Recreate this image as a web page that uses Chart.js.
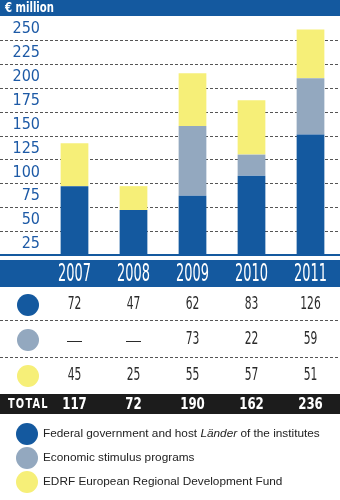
<!DOCTYPE html>
<html lang="en">
<head>
<meta charset="UTF-8">
<title>€ million</title>
<script src="https://cdn.jsdelivr.net/npm/chart.js"></script>
<style>
  html, body { margin: 0; padding: 0; background: #fff; }
  canvas { display: block; }
</style>
</head>
<body>
<canvas id="chart" width="340" height="500"></canvas>
<script>
// data
const years = ['2007', '2008', '2009', '2010', '2011'];
const federal = [72, 47, 62, 83, 126];
const stimulus = [null, null, 73, 22, 59];
const edrf = [45, 25, 55, 57, 51];
const yMax = 250;
const yStep = 25;
const unitLabel = '€ million';
const totalLabel = 'TOTAL';
const legendLabels = [
    'Federal government and host Länder of the institutes',
    'Economic stimulus programs',
    'EDRF European Regional Development Fund'
];

const BLUE = '#14599f';
const GREY = '#93a8bf';
const YELLOW = '#f6ef78';
const NARROW = "'Liberation Sans Narrow', 'DejaVu Sans Condensed', sans-serif";
const SANS = "'Liberation Sans', Arial, sans-serif";

// text with optional horizontal squeeze
function txt(ctx, s, x, y, font, color, align, sx) {
    ctx.save();
    ctx.translate(x, y);
    ctx.scale(sx || 1, 1);
    ctx.font = font;
    ctx.fillStyle = color;
    ctx.textAlign = align || 'center';
    ctx.textBaseline = 'middle';
    ctx.fillText(s, 0, 0);
    ctx.restore();
}

function dashed(ctx, y, w) {
    ctx.save();
    ctx.strokeStyle = '#555';
    ctx.lineWidth = 1;
    ctx.setLineDash([3, 2]);
    ctx.beginPath();
    ctx.moveTo(0, y);
    ctx.lineTo(w, y);
    ctx.stroke();
    ctx.restore();
}

const framePlugin = {
    id: 'frame',
    beforeDraw(chart) {
        const ctx = chart.ctx, W = chart.width;
        const ys = chart.scales.y, xs = chart.scales.x;
        ctx.save();
        ctx.fillStyle = '#fff';
        ctx.fillRect(0, 0, W, chart.height);
        // header band
        ctx.fillStyle = BLUE;
        ctx.fillRect(0, 0, W, chart.chartArea.top);
        txt(ctx, unitLabel, 5, chart.chartArea.top / 2 + 0.5, 'bold 14px ' + NARROW, '#fff', 'left', 0.8);
        // grid lines across the whole width
        ys.ticks.forEach(t => {
            if (t.value <= 0 || t.value >= yMax) return;
            dashed(ctx, Math.round(ys.getPixelForValue(t.value)) + 0.5, W);
        });
        // base line and year band
        const base = ys.getPixelForValue(0);
        ctx.fillStyle = BLUE;
        ctx.fillRect(0, base - 1, W, 2);
        ctx.fillRect(0, base + 5, W, xs.bottom - base - 5);
        ctx.restore();
    },
    afterDraw(chart) {
        const ctx = chart.ctx, W = chart.width;
        const xs = chart.scales.x;
        // years
        years.forEach((y, i) => {
            txt(ctx, y, xs.getPixelForValue(i), 275, '24px ' + NARROW, '#fff', 'center', 0.6);
        });
        // value table
        const rows = [federal, stimulus, edrf];
        const colors = [BLUE, GREY, YELLOW];
        const rowY = [305, 340, 376];
        dashed(ctx, 320.5, W);
        dashed(ctx, 357.5, W);
        rows.forEach((r, k) => {
            ctx.beginPath();
            ctx.fillStyle = colors[k];
            ctx.arc(28, rowY[k], 11, 0, Math.PI * 2);
            ctx.fill();
            r.forEach((v, i) => {
                if (v == null) {
                    txt(ctx, '—', xs.getPixelForValue(i), rowY[k] + 1, '15px ' + SANS, '#2b2b2b', 'center');
                } else {
                    txt(ctx, String(v), xs.getPixelForValue(i), rowY[k], '17px ' + NARROW, '#2b2b2b', 'center', 0.7);
                }
            });
        });
        // totals
        ctx.fillStyle = '#1c1c1c';
        ctx.fillRect(0, 394, W, 20);
        ctx.save();
        ctx.letterSpacing = '1.5px';
        txt(ctx, totalLabel, 8, 404.5, 'bold 14px ' + NARROW, '#fff', 'left', 0.78);
        ctx.restore();
        years.forEach((y, i) => {
            const sum = (federal[i] || 0) + (stimulus[i] || 0) + (edrf[i] || 0);
            txt(ctx, String(sum), xs.getPixelForValue(i), 404.5, 'bold 16px ' + NARROW, '#fff', 'center', 0.82);
        });
        // legend
        const legY = [434, 458, 482];
        legendLabels.forEach((lab, k) => {
            ctx.beginPath();
            ctx.fillStyle = colors[k];
            ctx.arc(27, legY[k], 11, 0, Math.PI * 2);
            ctx.fill();
            // "Länder" is set in italics
            let x = 43;
            lab.split(/(Länder)/).forEach(part => {
                if (!part) return;
                const f = (part === 'Länder' ? 'italic ' : '') + '11.8px ' + SANS;
                ctx.font = f;
                txt(ctx, part, x, legY[k], f, '#222', 'left');
                x += ctx.measureText(part).width;
            });
        });
    }
};

new Chart(document.getElementById('chart').getContext('2d'), {
    type: 'bar',
    data: {
        labels: years,
        datasets: [
            { label: legendLabels[0], data: federal, backgroundColor: BLUE },
            { label: legendLabels[1], data: stimulus, backgroundColor: GREY },
            { label: legendLabels[2], data: edrf, backgroundColor: YELLOW }
        ]
    },
    options: {
        responsive: false,
        animation: false,
        events: [],
        datasets: { bar: { barPercentage: 0.47, categoryPercentage: 1 } },
        layout: { autoPadding: false, padding: { top: 16, left: 0, right: 0, bottom: 213 } },
        plugins: { legend: { display: false }, tooltip: { enabled: false } },
        scales: {
            x: {
                stacked: true,
                grid: { display: false },
                border: { display: false },
                ticks: { display: false },
                afterFit(s) { s.height = 32; }
            },
            y: {
                stacked: true,
                min: 0,
                max: yMax,
                grid: { display: false, drawTicks: false },
                border: { display: false },
                ticks: {
                    stepSize: yStep,
                    padding: 5,
                    labelOffset: 13,
                    color: '#1d5aa6',
                    font: { family: NARROW, size: 16 },
                    callback: v => (v === 0 ? '' : v)
                },
                afterFit(s) { s.width = 45; }
            }
        }
    },
    plugins: [framePlugin]
});
</script>
</body>
</html>
